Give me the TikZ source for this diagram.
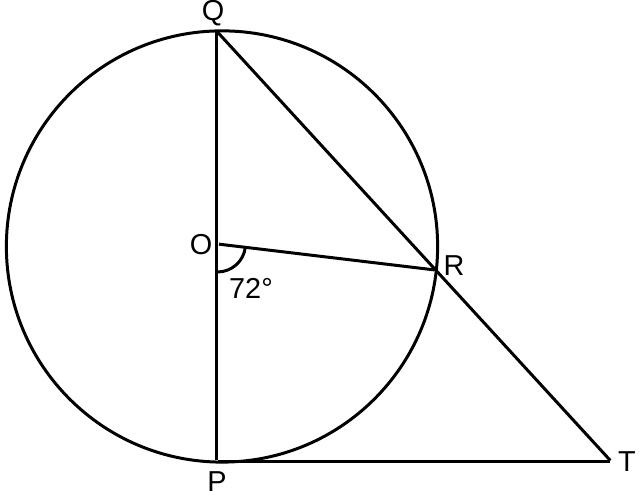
\documentclass[tikz,border=0pt]{standalone}
\usepackage{fontspec}
\setmainfont{Liberation Sans}
\usepackage{tikz}
\tikzstyle{geoline} = [line width=0.85pt]
\usetikzlibrary{calc}

\begin{document}
\begin{tikzpicture}[x=0.01cm,y=0.01cm,geoline,
      label node/.style={font=\fontsize{8.2}{10}\selectfont,inner sep=0pt},
      point node/.style={inner sep=0pt,minimum size=0pt}]
  
      \useasboundingbox (0,0) rectangle (642,498);
  
      \coordinate (C) at (222,251.5);
      \node[point node] (Q) at (216.5,467) {};
      \node[point node] (P) at (216.5,36) {};
      \node[point node] (O) at (217.5,254) {};
      \node[point node] (T) at (611.7,36) {};
      \node[point node] (R) at ($(Q)!0.5547!(T)$) {};
  
      \node[label node] (LQ) at (213,485) {Q};
      \node[label node] (LO) at (201,253) {O};
      \node[label node] (LR) at (454,232) {R};
      \node[label node] (LP) at (217,16) {P};
      \node[label node] (LT) at (627,36) {T};
      \node[label node] (LA) at (251,210) {72°};
  
      \draw (C) circle [radius=2.155cm];
      \path
      (Q) edge (P)
      (Q) edge (T)
      (O) edge (R)
      (P) edge (T);
      \draw (O.center) ++(-6.8:0.28cm) arc [start angle=-6.8, end angle=-90, radius=0.28cm];
    \end{tikzpicture}
\end{document}
